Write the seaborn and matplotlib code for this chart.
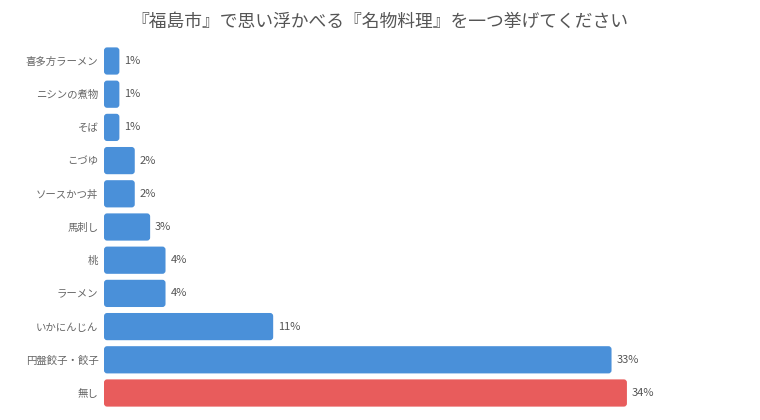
import matplotlib
matplotlib.use("Agg")
import matplotlib.pyplot as plt
from matplotlib.patches import FancyBboxPatch
import pandas as pd
import seaborn as sns

categories = [
    "喜多方ラーメン", "ニシンの煮物", "そば", "こづゆ", "ソースかつ丼",
    "馬刺し", "桃", "ラーメン", "いかにんじん", "円盤餃子・餃子", "無し",
]
values = [1, 1, 1, 2, 2, 3, 4, 4, 11, 33, 34]
colors = ["#4A90D9"] * 10 + ["#E85C5C"]
title = "『福島市』で思い浮かべる『名物料理』を一つ挙げてください"

sns.set_theme(style="white")
plt.rcParams["font.family"] = ["Noto Sans CJK JP", "DejaVu Sans"]

df = pd.DataFrame({"cat": categories, "val": values})

fig = plt.figure(figsize=(7.6, 4.2), dpi=100)
ax = fig.add_axes([104 / 760, 10.4 / 420, (750 - 104) / 760, (420 - 44.4 - 10.4) / 420])
sns.barplot(data=df, x="val", y="cat", hue="cat", palette=colors,
            legend=False, width=0.82, saturation=1, ax=ax)

px_x = 15.38
px_y = 33.2
for p in list(ax.patches):
    x, y = p.get_x(), p.get_y()
    w, h = p.get_width(), p.get_height()
    fc = p.get_facecolor()
    p.remove()
    box = FancyBboxPatch((x, y), w, h,
                         boxstyle="round,pad=0,rounding_size=0.2",
                         mutation_aspect=px_x / px_y,
                         facecolor=fc, edgecolor="none")
    ax.add_patch(box)

for i, v in enumerate(values):
    ax.text(v + 5 / px_x, i, f"{v}%", va="center", ha="left",
            fontsize=8, color="#555555")

ax.set_xlim(0, (750 - 104) / px_x)
ax.set_ylim(10.5, -0.5)
ax.set_xlabel("")
ax.set_ylabel("")
ax.set_xticks([])
ax.tick_params(axis="y", length=0, pad=4, labelsize=7.5, labelcolor="#666666")
sns.despine(ax=ax, left=True, bottom=True)

fig.text(0.5, 1 - 22 / 420, title, ha="center", va="center",
         fontsize=12.8, color="#555555")

fig.savefig("out.png", dpi=100)
